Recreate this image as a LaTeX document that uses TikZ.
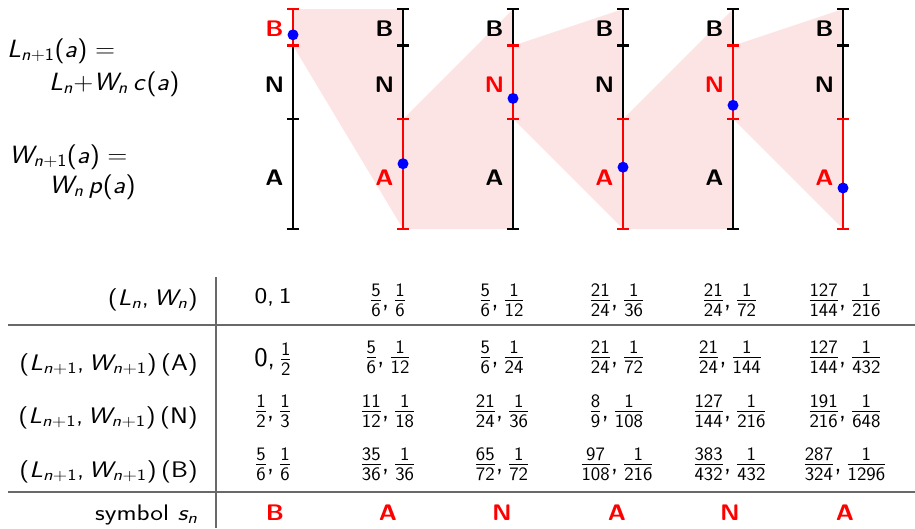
\documentclass[tikz,border=0pt]{standalone}
\usepackage{fix-cm}
\usepackage{amsmath}
\usepackage{graphicx}
\DeclareSymbolFont{operators}{OT1}{cmss}{m}{n}
\DeclareSymbolFont{letters}{OT1}{cmss}{m}{sl}
\DeclareMathSymbol{,}{\mathpunct}{operators}{"2C}
\DeclareMathSizes{27}{27}{19}{14}
\renewcommand{\familydefault}{\sfdefault}
\definecolor{shadepink}{RGB}{253,228,228}
\definecolor{rulegray}{RGB}{105,105,105}
\newcommand{\hs}[1]{\scalebox{1.2}[1]{#1}}
\newcommand{\hc}[1]{\scalebox{1.05}[1]{#1}}
\newcommand{\hf}[1]{\scalebox{1.1}[1]{#1}}
\newcommand{\hl}[1]{\scalebox{1.1}[1]{#1}}
\tikzset{
  bar/.style={line width=2.6pt},
  tickmark/.style={line width=2.6pt},
  dot/.style={circle,fill=blue,inner sep=0pt,minimum size=11pt},
  lbl/.style={font=\fontsize{22.5}{27}\selectfont\bfseries, anchor=base, inner sep=0pt},
  formula/.style={font=\fontsize{25}{30}\selectfont, anchor=base west, inner sep=0pt},
  cell/.style={font=\fontsize{27}{30}\selectfont, anchor=base, inner sep=0pt},
  plaincell/.style={font=\fontsize{22.5}{26}\selectfont, anchor=base, inner sep=0pt},
  head/.style={font=\fontsize{22.5}{26}\selectfont, anchor=base east, inner sep=0pt},
  sym/.style={font=\fontsize{22.5}{27}\selectfont\bfseries, text=red, anchor=base, inner sep=0pt},
  tline/.style={draw=rulegray, line width=1.4pt},
}
\newcommand{\fr}[2]{\frac{#1}{#2}}
\begin{document}
\begin{tikzpicture}[x=1pt,y=-1pt]
\useasboundingbox (0,0) rectangle (915,528);
% shaded zoom regions
\fill[shadepink] (293,9) -- (403,9) -- (403,229) -- (293,45.67) -- cycle;
\fill[shadepink] (403,119) -- (513,9) -- (513,229) -- (403,229) -- cycle;
\fill[shadepink] (513,45.67) -- (623,9) -- (623,229) -- (513,119) -- cycle;
\fill[shadepink] (623,119) -- (733,9) -- (733,229) -- (623,229) -- cycle;
\fill[shadepink] (733,45.67) -- (843,9) -- (843,229) -- (733,119) -- cycle;
% bars
\foreach \i/\ya/\yb/\dy/\cb/\cn/\ca in {
 0/9/45.67/34.8/red/black/black,
 1/119/229/163.7/black/black/red,
 2/45.67/119/98.4/black/red/black,
 3/119/229/167.2/black/black/red,
 4/45.67/119/105.3/black/red/black,
 5/119/229/188.0/black/black/red}{
 \begin{scope}[xshift=110*\i]
   \draw[bar] (293,9) -- (293,229);
   \foreach \t in {9,45.67,119,229} \draw[tickmark] (287,\t) -- (299,\t);
   \draw[bar,red] (293,\ya) -- (293,\yb);
   \draw[tickmark,red] (287,\ya) -- (299,\ya) (287,\yb) -- (299,\yb);
   \node[lbl,text=\cb] (lb\i) at (274.5,36) {\hl{B}};
   \node[lbl,text=\cn] (ln\i) at (274.5,92.5) {\hl{N}};
   \node[lbl,text=\ca] (la\i) at (274.5,185) {\hl{A}};
   \node[dot] (d\i) at (293,\dy) {};
 \end{scope}
}
% formulas
\node[formula] (f1) at (7,57) {\hf{$L_{n+1}(a) =$}};
\node[formula] (f2) at (49,90) {\hf{$L_n{+}W_n\,c(a)$}};
\node[formula] (f3) at (9,163) {\hf{$W_{n+1}(a) =$}};
\node[formula] (f4) at (49,193) {\hf{$W_n\,p(a)$}};
% table rules
\draw[tline] (216,277) -- (216,528);
\draw[tline] (8,325) -- (915,325);
\draw[tline] (8,492) -- (915,492);
% row headers
\node[head] (h1) at (198,305) {\hs{$(L_n, W_n)$}};
\node[head] (h2) at (198,370) {\hs{$(L_{n+1}, W_{n+1})$\,(A)}};
\node[head] (h3) at (198,423) {\hs{$(L_{n+1}, W_{n+1})$\,(N)}};
\node[head] (h4) at (198,477) {\hs{$(L_{n+1}, W_{n+1})$\,(B)}};
\node[head] (h5) at (198,520) {\hs{symbol $s_n$}};
% cells
\node[plaincell] (r1c0) at (273,303) {\hs{$0,1$}};
\node[cell] (r1c1) at (388,307) {\hc{$\fr{5}{6},\fr{1}{6}$}};
\node[cell] (r1c2) at (502,307) {\hc{$\fr{5}{6},\fr{1}{12}$}};
\node[cell] (r1c3) at (617,307) {\hc{$\fr{21}{24},\fr{1}{36}$}};
\node[cell] (r1c4) at (730,307) {\hc{$\fr{21}{24},\fr{1}{72}$}};
\node[cell] (r1c5) at (845,307) {\hc{$\fr{127}{144},\fr{1}{216}$}};
\node[cell] (r2c0) at (273,366) {\hc{$0,\fr{1}{2}$}};
\node[cell] (r2c1) at (388,364) {\hc{$\fr{5}{6},\fr{1}{12}$}};
\node[cell] (r2c2) at (502,364) {\hc{$\fr{5}{6},\fr{1}{24}$}};
\node[cell] (r2c3) at (617,364) {\hc{$\fr{21}{24},\fr{1}{72}$}};
\node[cell] (r2c4) at (730,364) {\hc{$\fr{21}{24},\fr{1}{144}$}};
\node[cell] (r2c5) at (845,364) {\hc{$\fr{127}{144},\fr{1}{432}$}};
\node[cell] (r3c0) at (273,418) {\hc{$\fr{1}{2},\fr{1}{3}$}};
\node[cell] (r3c1) at (388,418) {\hc{$\fr{11}{12},\fr{1}{18}$}};
\node[cell] (r3c2) at (502,418) {\hc{$\fr{21}{24},\fr{1}{36}$}};
\node[cell] (r3c3) at (617,418) {\hc{$\fr{8}{9},\fr{1}{108}$}};
\node[cell] (r3c4) at (730,418) {\hc{$\fr{127}{144},\fr{1}{216}$}};
\node[cell] (r3c5) at (845,418) {\hc{$\fr{191}{216},\fr{1}{648}$}};
\node[cell] (r4c0) at (273,471) {\hc{$\fr{5}{6},\fr{1}{6}$}};
\node[cell] (r4c1) at (388,471) {\hc{$\fr{35}{36},\fr{1}{36}$}};
\node[cell] (r4c2) at (502,471) {\hc{$\fr{65}{72},\fr{1}{72}$}};
\node[cell] (r4c3) at (617,471) {\hc{$\fr{97}{108},\fr{1}{216}$}};
\node[cell] (r4c4) at (730,471) {\hc{$\fr{383}{432},\fr{1}{432}$}};
\node[cell] (r4c5) at (845,471) {\hc{$\fr{287}{324},\fr{1}{1296}$}};
\node[sym] (s0) at (275,520) {\hl{B}};
\node[sym] (s1) at (388,520) {\hl{A}};
\node[sym] (s2) at (502,520) {\hl{N}};
\node[sym] (s3) at (617,520) {\hl{A}};
\node[sym] (s4) at (730,520) {\hl{N}};
\node[sym] (s5) at (845,520) {\hl{A}};
\end{tikzpicture}
\end{document}
